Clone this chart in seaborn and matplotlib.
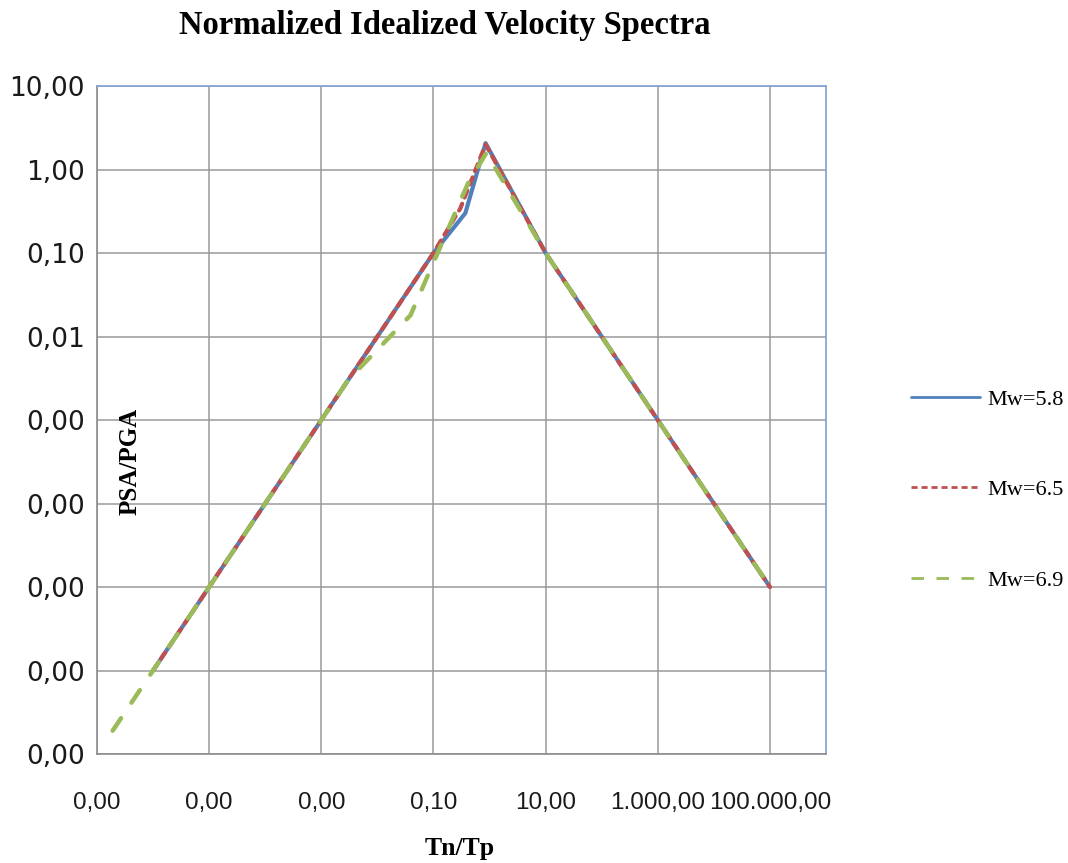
import matplotlib
matplotlib.use("Agg")
import matplotlib.pyplot as plt
from matplotlib.lines import Line2D
import seaborn as sns
import pandas as pd

# ---- data ----
tn_58 = [1e-6, 0.1, 0.37, 0.85, 10, 1e5]
psa_58 = [1e-6, 0.1, 0.30, 2.07, 0.1, 1e-5]

tn_65 = [1e-6, 0.1, 0.30, 0.85, 10, 1e5]
psa_65 = [1e-6, 0.1, 0.34, 2.0, 0.1, 1e-5]

tn_69 = [1.9e-7, 0.003, 0.039, 0.42, 0.88, 10, 1e5]
psa_69 = [1.9e-7, 0.003, 0.018, 0.70, 1.58, 0.1, 1e-5]

series_names = ["Mw=5.8", "Mw=6.5", "Mw=6.9"]

x_ticks = [1e-7, 1e-5, 1e-3, 1e-1, 1e1, 1e3, 1e5]
x_ticklabels = ["0,00", "0,00", "0,00", "0,10", "10,00", "1.000,00", "100.000,00"]
y_ticks = [1e-7, 1e-6, 1e-5, 1e-4, 1e-3, 1e-2, 1e-1, 1e0, 1e1]
y_ticklabels = ["0,00", "0,00", "0,00", "0,00", "0,00", "0,01", "0,10", "1,00", "10,00"]

title = "Normalized Idealized Velocity Spectra"
xlabel = "Tn/Tp"
ylabel = "PSA/PGA"

colors = ["#4F81BD", "#C0504D", "#9BBB59"]

sns.set_style("white")

fig = plt.figure(figsize=(10.68, 8.63), dpi=100)
ax = fig.add_axes([97/1068, 1-754/863, (826-97)/1068, (754-86)/863])
ax.set_xscale("log")
ax.set_yscale("log")

df58 = pd.DataFrame({"x": tn_58, "y": psa_58})
df65 = pd.DataFrame({"x": tn_65, "y": psa_65})
df69 = pd.DataFrame({"x": tn_69, "y": psa_69})

sns.lineplot(data=df58, x="x", y="y", ax=ax, sort=False, estimator=None,
             color=colors[0], lw=3.0, solid_capstyle="round", zorder=3)
sns.lineplot(data=df65, x="x", y="y", ax=ax, sort=False, estimator=None,
             color=colors[1], lw=3.0, linestyle=(0, (1.8, 1.6)),
             dash_capstyle="round", zorder=4)
sns.lineplot(data=df69, x="x", y="y", ax=ax, sort=False, estimator=None,
             color=colors[2], lw=3.2, linestyle=(0, (3.4, 4.2)),
             dash_capstyle="round", zorder=5)

ax.set_xlim(1e-7, 1e6)
ax.set_ylim(1e-7, 1e1)

ax.set_xticks(x_ticks)
ax.set_xticklabels(x_ticklabels, fontfamily="Liberation Sans", fontsize=17.5)
ax.set_yticks(y_ticks)
ax.set_yticklabels(y_ticklabels, fontfamily="DejaVu Sans", fontsize=19)
ax.minorticks_off()
ax.tick_params(axis="x", length=0, pad=27, colors="#1a1a1a")
ax.tick_params(axis="y", length=5, width=1, direction="out", color="#888888", pad=4, labelcolor="#1a1a1a")

ax.grid(True, which="major", color="#9a9a9a", lw=1.1)
ax.set_axisbelow(True)
for s in ["left", "bottom"]:
    ax.spines[s].set_color("#8c8c8c")
    ax.spines[s].set_linewidth(1.2)
for s in ["top", "right"]:
    ax.spines[s].set_color("#7f9fd2")
    ax.spines[s].set_linewidth(1.2)
ax.set_xlabel("")
ax.set_ylabel("")

fig.text(445/1068, 1-34/863, title, ha="center", va="baseline", color="black",
         fontfamily="Liberation Serif", fontweight="bold", fontsize=23.5)
fig.text(460/1068, 1-855/863, xlabel, ha="center", va="baseline", color="black",
         fontfamily="Liberation Serif", fontweight="bold", fontsize=18.5)
fig.text(130/1068, 1-461/863, ylabel, ha="center", va="center", rotation=90, color="black",
         fontfamily="Liberation Serif", fontweight="bold", fontsize=18)

handles = [
    Line2D([], [], color=colors[0], lw=2.0),
    Line2D([], [], color=colors[1], lw=2.0, linestyle=(0, (2.2, 1.4))),
    Line2D([], [], color=colors[2], lw=2.0, linestyle=(0, (4.5, 4.5))),
]
leg = fig.legend(handles, series_names, loc="center left",
                 bbox_to_anchor=(911/1068, 1-490/863), frameon=False,
                 prop={"family": "Liberation Serif", "size": 16},
                 handlelength=3.1, handletextpad=0.35, labelspacing=3.15,
                 borderpad=0, borderaxespad=0)
for t in leg.get_texts():
    t.set_color("black")

fig.savefig("out.png", dpi=100)
